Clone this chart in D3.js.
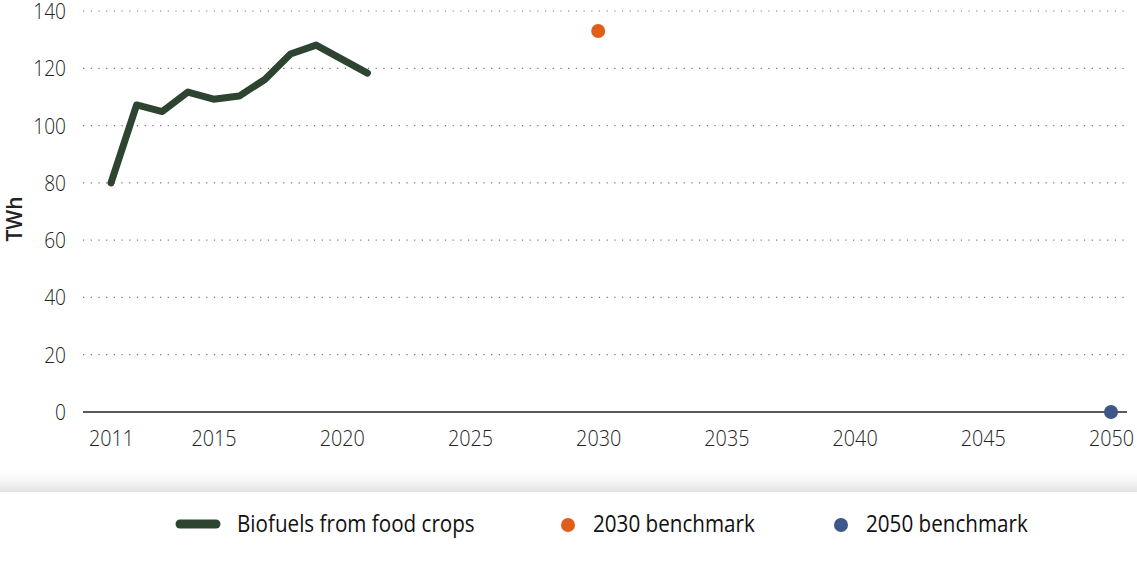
<!DOCTYPE html>
<html>
<head>
<meta charset="utf-8">
<script src="https://cdn.jsdelivr.net/npm/d3@7"></script>
<style>
  html, body { margin: 0; padding: 0; background: #fff; }
  svg { display: block; font-family: "Open Sans", sans-serif; }
</style>
</head>
<body>
<svg id="chart" width="1137" height="585"></svg>
<script>
const years = [2011, 2012, 2013, 2014, 2015, 2016, 2017, 2018, 2019, 2020, 2021];
const biofuels = [80, 107.2, 104.9, 111.7, 109.2, 110.3, 116.1, 125, 128.1, 123.2, 118.3];
const benchmark2030 = [{ year: 2030, value: 133 }];
const benchmark2050 = [{ year: 2050, value: 0 }];
const xTicks = [2011, 2015, 2020, 2025, 2030, 2035, 2040, 2045, 2050];
const yTicks = [0, 20, 40, 60, 80, 100, 120, 140];
const seriesNames = ["Biofuels from food crops", "2030 benchmark", "2050 benchmark"];
const colors = ["#2d4530", "#e05e1a", "#3f5689"];

const svg = d3.select("#chart");
const x = d3.scaleLinear().domain([2011, 2050]).range([111, 1111]);
const y = d3.scaleLinear().domain([0, 140]).range([412, 11]);

// gridlines
svg.append("g").selectAll("line").data(yTicks.filter(d => d > 0)).join("line")
  .attr("x1", 83).attr("x2", 1126)
  .attr("y1", d => y(d)).attr("y2", d => y(d))
  .attr("stroke", "#777").attr("stroke-width", 1.2)
  .attr("stroke-dasharray", "1.2,6.5");

// baseline
svg.append("line").attr("x1", 83).attr("x2", 1127)
  .attr("y1", y(0)).attr("y2", y(0))
  .attr("stroke", "#222").attr("stroke-width", 1.5);

// y axis tick labels
const yAxis = d3.axisLeft(y).tickValues(yTicks).tickSize(0).tickPadding(0);
const gy = svg.append("g").attr("transform", "translate(66,0)").call(yAxis);
gy.select(".domain").remove();
gy.selectAll("text").attr("x", 0).attr("font-size", 22).attr("font-weight", 300)
  .attr("fill", "#222").attr("font-family", "Open Sans, sans-serif")
  .attr("dy", "0.34em").attr("transform", "scale(0.87,1)");

// x axis tick labels
const xAxis = d3.axisBottom(x).tickValues(xTicks).tickFormat(d3.format("d")).tickSize(0).tickPadding(0);
const gx = svg.append("g").attr("transform", "translate(0,438)").call(xAxis);
gx.select(".domain").remove();
gx.selectAll("text").attr("y", 0).attr("font-size", 22).attr("font-weight", 300)
  .attr("fill", "#222").attr("font-family", "Open Sans, sans-serif")
  .attr("dy", "0.36em").attr("transform", "scale(0.9,1)");

// y axis title
svg.append("text").attr("transform", "translate(22,219) rotate(-90)")
  .attr("text-anchor", "middle").attr("font-size", 21).attr("font-weight", 600)
  .attr("fill", "#222").text("TWh");

// line
const line = d3.line().x((d, i) => x(years[i])).y(d => y(d));
svg.append("path").datum(biofuels).attr("d", line)
  .attr("fill", "none").attr("stroke", colors[0]).attr("stroke-width", 7)
  .attr("stroke-linejoin", "round").attr("stroke-linecap", "round");

// benchmark points
svg.append("g").selectAll("circle").data(benchmark2030).join("circle")
  .attr("cx", d => x(d.year)).attr("cy", d => y(d.value)).attr("r", 7).attr("fill", colors[1]);
svg.append("g").selectAll("circle").data(benchmark2050).join("circle")
  .attr("cx", d => x(d.year)).attr("cy", d => y(d.value)).attr("r", 7).attr("fill", colors[2]);

// legend shadow
const defs = svg.append("defs");
const grad = defs.append("linearGradient").attr("id", "shadow").attr("x1", 0).attr("x2", 0).attr("y1", 0).attr("y2", 1);
grad.append("stop").attr("offset", "0%").attr("stop-color", "#fff").attr("stop-opacity", 0);
grad.append("stop").attr("offset", "100%").attr("stop-color", "#e2e2e2").attr("stop-opacity", 1);
svg.append("rect").attr("x", 0).attr("y", 466).attr("width", 1137).attr("height", 26).attr("fill", "url(#shadow)");
svg.append("rect").attr("x", 0).attr("y", 492).attr("width", 1137).attr("height", 93).attr("fill", "#fff");

// legend
const lg = svg.append("g");
lg.append("line").attr("x1", 180).attr("x2", 216).attr("y1", 524).attr("y2", 524)
  .attr("stroke", colors[0]).attr("stroke-width", 9).attr("stroke-linecap", "round");
lg.append("circle").attr("cx", 568).attr("cy", 525).attr("r", 7).attr("fill", colors[1]);
lg.append("circle").attr("cx", 841).attr("cy", 525).attr("r", 7).attr("fill", colors[2]);
const legendX = [237, 593, 866];
lg.selectAll("text").data(seriesNames).join("text")
  .attr("transform", (d, i) => `translate(${legendX[i]},532) scale(0.86,1)`)
  .attr("font-size", 24).attr("font-weight", 400).attr("fill", "#111")
  .text(d => d);
</script>
</body>
</html>
